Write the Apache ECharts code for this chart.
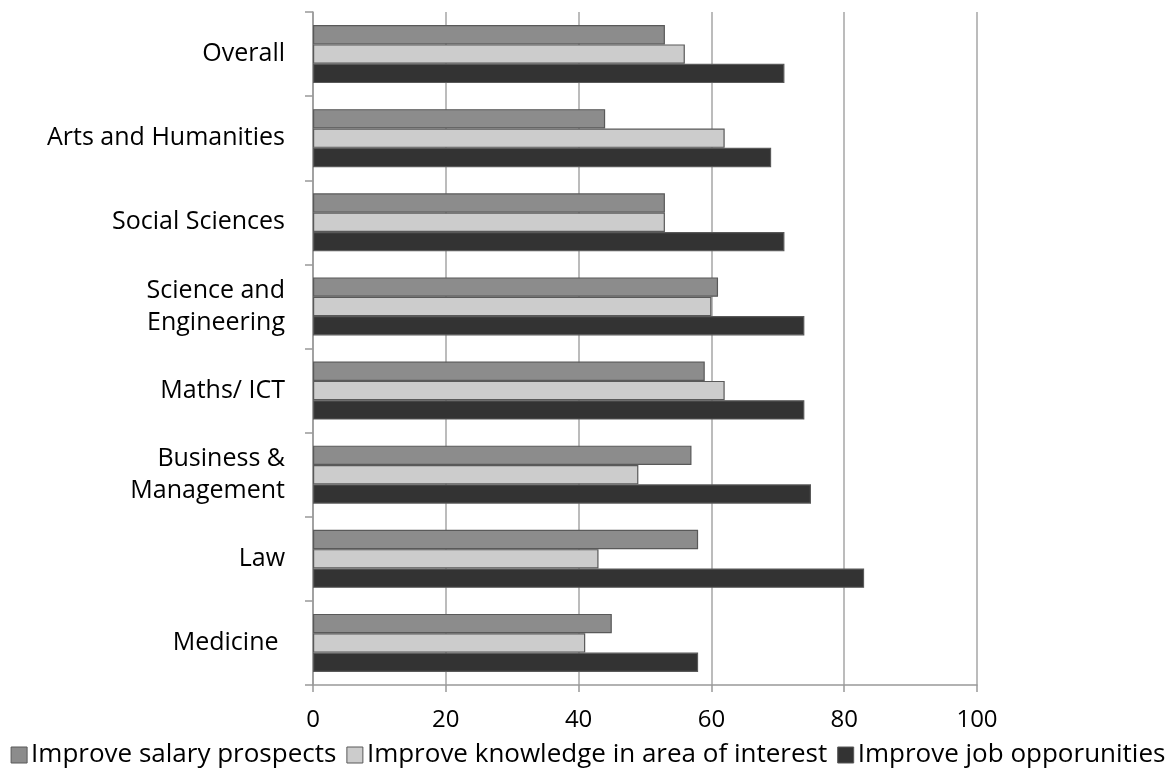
<!DOCTYPE html>
<html><head><meta charset="utf-8">
<script src="https://cdn.jsdelivr.net/npm/echarts@6/dist/echarts.min.js"></script>
<style>html,body{margin:0;padding:0;background:#fff}#c{width:1176px;height:777px}</style>
</head><body><div id="c"></div>
<script>
const categories = ["Overall","Arts and Humanities","Social Sciences","Science and\nEngineering","Maths/ ICT","Business &\nManagement","Law","Medicine "];
const salary = [53,44,53,61,59,57,58,45];
const knowledge = [56,62,53,60,62,49,43,41];
const job = [71,69,71,74,74,75,83,58];
const seriesNames = ["Improve salary prospects","Improve knowledge in area of interest","Improve job opporunities"];
const colors = ["#8c8c8c","#cccccc","#333333"];
const FONT = "Open Sans";
const chart = echarts.init(document.getElementById('c'));
const mk = (name, data, color) => ({
  name, type:'bar', data, barGap:'0%', barCategoryGap:'31%',
  itemStyle:{color, borderColor:'#595959', borderWidth:1.2},
  animation:false
});
chart.setOption({
  animation:false,
  textStyle:{fontFamily:FONT},
  grid:{left:313, right:199, top:12, bottom:92, containLabel:false},
  xAxis:{type:'value', min:0, max:100, interval:20,
    axisLine:{show:true, lineStyle:{color:'#999', width:1.5}},
    axisTick:{show:true, length:7, lineStyle:{color:'#999', width:1.5}},
    splitLine:{show:true, lineStyle:{color:'#a6a6a6', width:1.5}},
    axisLabel:{color:'#000', fontSize:24, fontFamily:FONT, margin:23}},
  yAxis:{type:'category', data:categories, inverse:true,
    axisLine:{show:true, lineStyle:{color:'#999', width:1.5}},
    axisTick:{show:true, length:8, lineStyle:{color:'#999', width:1.5}},
    axisLabel:{color:'#000', fontSize:25, fontFamily:FONT, margin:28, lineHeight:32, align:'right', padding:[4,0,0,0]}},
  legend:{bottom:4, left:'center', itemWidth:16, itemHeight:16, itemGap:10,
    icon:'rect',
    textStyle:{fontSize:26, color:'#000', fontFamily:FONT, padding:[0,0,0,-1]},
    itemStyle:{borderColor:'#595959', borderWidth:1}},
  series:[mk(seriesNames[0],salary,colors[0]), mk(seriesNames[1],knowledge,colors[1]), mk(seriesNames[2],job,colors[2])]
});
</script></body></html>
